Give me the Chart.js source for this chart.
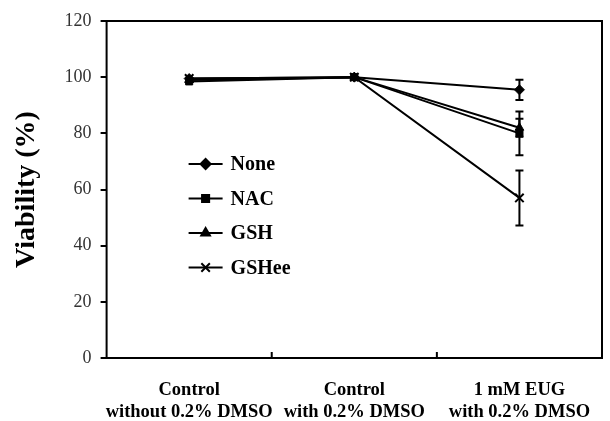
<!DOCTYPE html>
<html>
<head>
<meta charset="utf-8">
<script src="https://cdn.jsdelivr.net/npm/chart.js@4"></script>
<style>
  html, body { margin: 0; padding: 0; background: #fff; }
  #wrap { width: 610px; height: 421px; }
</style>
</head>
<body>
<div id="wrap"><canvas id="myChart" width="610" height="421"></canvas></div>
<script>
// categories (two-line labels)
const categories = [
  ["Control", "without 0.2% DMSO"],
  ["Control", "with 0.2% DMSO"],
  ["1 mM EUG", "with 0.2% DMSO"]
];
const yTicks = [0, 20, 40, 60, 80, 100, 120];

// series values (%)
const noneVals = [99.5, 100, 95.5];
const nacVals = [98.5, 100, 80];
const gshVals = [99, 100, 82];
const gsheeVals = [99.5, 100, 57];

// error (+/-) for each point
const noneErr = [0, 0, 3.6];
const nacErr = [0, 0, 7.8];
const gshErr = [0, 0, 3.2];
const gsheeErr = [0, 0, 9.8];

const serif = "'Liberation Serif', 'Times New Roman', serif";

const makeSet = (label, data, err, style) => ({
  label: label,
  data: data,
  err: err,
  borderColor: "#000",
  backgroundColor: "#000",
  borderWidth: 2,
  pointStyle: style,
  pointRadius: style === "crossRot" ? 6 : 5,
  pointBorderWidth: style === "crossRot" ? 2 : 1,
  tension: 0,
});

// error bars drawn from the scales
const errorBars = {
  id: "errorBars",
  afterDatasetsDraw(chart) {
    const ctx = chart.ctx;
    const y = chart.scales.y;
    ctx.save();
    ctx.strokeStyle = "#000";
    ctx.lineWidth = 2;
    chart.data.datasets.forEach((ds, i) => {
      const meta = chart.getDatasetMeta(i);
      meta.data.forEach((pt, j) => {
        const e = ds.err[j];
        if (!e) return;
        const top = y.getPixelForValue(ds.data[j] + e);
        const bot = y.getPixelForValue(ds.data[j] - e);
        ctx.beginPath();
        ctx.moveTo(pt.x, top); ctx.lineTo(pt.x, bot);
        ctx.moveTo(pt.x - 4, top); ctx.lineTo(pt.x + 4, top);
        ctx.moveTo(pt.x - 4, bot); ctx.lineTo(pt.x + 4, bot);
        ctx.stroke();
      });
    });
    ctx.restore();
  }
};

// frame, x ticks at category boundaries, and the inner legend
const frameAndLegend = {
  id: "frameAndLegend",
  afterDraw(chart) {
    const ctx = chart.ctx;
    const a = chart.chartArea;
    const x = chart.scales.x;
    ctx.save();
    ctx.strokeStyle = "#000";
    ctx.lineWidth = 2;
    ctx.strokeRect(a.left, a.top, a.right - a.left, a.bottom - a.top);
    ctx.beginPath();
    for (let i = 0; i < categories.length - 1; i++) {
      const bx = (x.getPixelForValue(i) + x.getPixelForValue(i + 1)) / 2;
      ctx.moveTo(bx, a.bottom);
      ctx.lineTo(bx, a.bottom - 6);
    }
    ctx.stroke();

    // legend
    const lx = a.left + 82;
    let ly = a.top + 143;
    ctx.font = "bold 20px " + serif;
    ctx.textBaseline = "middle";
    ctx.fillStyle = "#000";
    chart.data.datasets.forEach((ds) => {
      ctx.beginPath();
      ctx.lineWidth = 2;
      ctx.moveTo(lx, ly); ctx.lineTo(lx + 34, ly);
      ctx.stroke();
      Chart.helpers.drawPoint(ctx, {
        pointStyle: ds.pointStyle,
        radius: ds.pointRadius,
        borderWidth: ds.pointBorderWidth,
        rotation: 0
      }, lx + 17, ly);
      ctx.fillStyle = "#000";
      ctx.fillText(ds.label, lx + 42, ly + 1);
      ly += 34.5;
    });
    ctx.restore();
  }
};

const ctx = document.getElementById("myChart").getContext("2d");
new Chart(ctx, {
  type: "line",
  data: {
    labels: categories,
    datasets: [
      makeSet("None", noneVals, noneErr, "rectRot"),
      makeSet("NAC", nacVals, nacErr, "rect"),
      makeSet("GSH", gshVals, gshErr, "triangle"),
      makeSet("GSHee", gsheeVals, gsheeErr, "crossRot"),
    ],
  },
  options: {
    responsive: false,
    animation: false,
    layout: { padding: { top: 21, right: 8, left: 10, bottom: 0 } },
    plugins: {
      legend: { display: false },
      tooltip: { enabled: false },
    },
    scales: {
      x: {
        offset: true,
        grid: { display: false, offset: true, drawTicks: false },
        border: { display: false },
        ticks: {
          color: "#000",
          font: { family: serif, size: 18.5, weight: "bold", lineHeight: 1.2 },
          padding: 21,
          maxRotation: 0,
          autoSkip: false,
        },
        afterFit: (axis) => {
          axis.height = 63;
          axis.paddingLeft = 0;
          axis.paddingRight = 0;
        },
      },
      y: {
        min: 0,
        max: 120,
        afterBuildTicks: (axis) => {
          axis.ticks = yTicks.map((v) => ({ value: v }));
        },
        grid: {
          drawOnChartArea: false,
          drawTicks: true,
          tickLength: 6,
          color: "#000",
          lineWidth: 2,
        },
        border: { display: false },
        ticks: {
          color: "#333",
          font: { family: serif, size: 18 },
          padding: 9,
        },
        title: {
          display: true,
          text: "Viability (%)",
          color: "#000",
          font: { family: serif, size: 28, weight: "bold" },
          padding: { top: 0, bottom: 12 },
        },
      },
    },
  },
  plugins: [errorBars, frameAndLegend],
});
</script>
</body>
</html>
